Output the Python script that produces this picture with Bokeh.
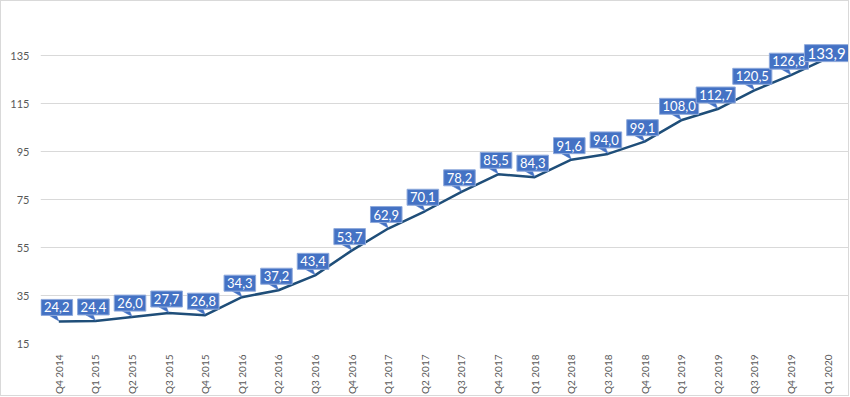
from math import pi
from bokeh.plotting import figure
from bokeh.models import ColumnDataSource, FixedTicker, Range1d
from bokeh.core.properties import value
from bokeh.embed import file_html
from bokeh.resources import INLINE

quarters = ["Q4 2014", "Q1 2015", "Q2 2015", "Q3 2015", "Q4 2015",
            "Q1 2016", "Q2 2016", "Q3 2016", "Q4 2016",
            "Q1 2017", "Q2 2017", "Q3 2017", "Q4 2017",
            "Q1 2018", "Q2 2018", "Q3 2018", "Q4 2018",
            "Q1 2019", "Q2 2019", "Q3 2019", "Q4 2019", "Q1 2020"]
values = [24.2, 24.4, 26.0, 27.7, 26.8, 34.3, 37.2, 43.4, 53.7, 62.9, 70.1,
          78.2, 85.5, 84.3, 91.6, 94.0, 99.1, 108.0, 112.7, 120.5, 126.8, 133.9]
y_ticks = [15, 35, 55, 75, 95, 115, 135]

FONT = "Lato"
BLUE = "#4472C4"
LINE = "#1F4E79"

W, H = 849, 396
ML, MR, MT, MB = 39, 1, 18, 50
Y0, Y1 = 15, 150
frame_h = H - 2 - MT - MB
ppu = frame_h / (Y1 - Y0)  # pixels per y unit

xs = list(range(len(quarters)))
labels = [f"{v:.1f}".replace(".", ",") for v in values]

p = figure(width=W, height=H, output_backend="svg", toolbar_location=None,
           x_range=Range1d(-0.5, len(quarters) - 0.4), y_range=Range1d(Y0, Y1),
           min_border_left=ML, min_border_right=MR, min_border_top=MT,
           min_border_bottom=MB)
p.styles = {"border": "1px solid #D9D9D9", "box-sizing": "border-box"}
p.outline_line_color = None
p.background_fill_color = "white"

p.xgrid.grid_line_color = None
p.ygrid.grid_line_color = "#D9D9D9"
p.ygrid.ticker = FixedTicker(ticks=y_ticks)

p.yaxis.ticker = FixedTicker(ticks=y_ticks)
p.yaxis.axis_line_color = None
p.yaxis.major_tick_line_color = None
p.yaxis.minor_tick_line_color = None
p.yaxis.major_label_text_font = FONT
p.yaxis.major_label_text_font_size = "11px"
p.yaxis.major_label_text_color = "#595959"

p.xaxis.ticker = FixedTicker(ticks=xs)
p.xaxis.major_label_overrides = {i: q for i, q in enumerate(quarters)}
p.xaxis.major_label_orientation = pi / 2
p.xaxis.axis_line_color = None
p.xaxis.major_tick_line_color = None
p.xaxis.minor_tick_line_color = None
p.xaxis.major_label_standoff = 5
p.xaxis.major_label_text_font = FONT
p.xaxis.major_label_text_font_size = "10px"
p.xaxis.major_label_text_color = "#595959"

p.line(xs, values, line_color=LINE, line_width=2.5)

# callout tails (all but last)
n = len(values) - 1
tail_xs = [[x - 0.26, x - 0.06, x] for x in xs[:n]]
tail_ys = [[v + 6 / ppu, v + 6 / ppu, v + 0.5 / ppu] for v in values[:n]]
p.patches(tail_xs, tail_ys, fill_color=BLUE, line_color=BLUE, line_width=0.5)

src = ColumnDataSource(dict(x=xs[:n], y=values[:n], t=labels[:n]))
p.text(x="x", y="y", text="t", source=src, x_offset=-2, y_offset=-14,
       text_align="center", text_baseline="middle",
       text_font=value(FONT), text_font_size="13px", text_color="white",
       background_fill_color=BLUE, border_line_color="#8FAADC",
       border_line_width=1, padding=3)

src2 = ColumnDataSource(dict(x=xs[n:], y=values[n:], t=labels[n:]))
p.text(x="x", y="y", text="t", source=src2, x_offset=-1, y_offset=-5,
       text_align="center", text_baseline="middle",
       text_font=value(FONT), text_font_size="15px", text_color="white",
       background_fill_color=BLUE, border_line_color="#8FAADC",
       border_line_width=1, padding=3)

open("out.html", "w").write(file_html(p, INLINE))
